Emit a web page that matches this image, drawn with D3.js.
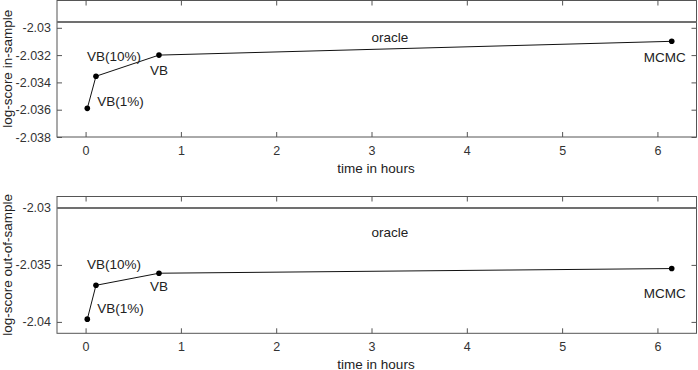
<!DOCTYPE html>
<html><head><meta charset="utf-8">
<script src="https://cdn.jsdelivr.net/npm/d3@7"></script>
<style>body{margin:0;background:#fff}svg{display:block;font-family:"Liberation Sans",Arial,sans-serif}</style>
</head><body><svg id="c" width="698" height="370"></svg>
<script>
const methods = ["VB(1%)", "VB(10%)", "VB", "MCMC"];
const hours = [0.018, 0.109, 0.77, 6.15];
const inSample = [-2.0359, -2.03355, -2.032, -2.03099];
const outSample = [-2.03976, -2.03679, -2.03573, -2.03532];
const oracleIn = -2.02958;
const oracleOut = -2.0300;
const xTicks = [0, 1, 2, 3, 4, 5, 6];
const inTicks = [-2.038, -2.036, -2.034, -2.032, -2.03];
const outTicks = [-2.04, -2.035, -2.03];

const svg = d3.select("#c");
const x = d3.scaleLinear().domain([-0.3, 6.41]).range([57, 696.5]);
const FS = 13.5;

const panels = [
  {vals: inSample, oracle: oracleIn, ticks: inTicks, dom: [-2.038, -2.028], top: 0.5, bot: 137, ylab: "log-score in-sample",
   off: [[10, -2.5, "start"], [18, -15, "middle"], [0, 20, "middle"], [14, 20.5, "end"]], oracleDy: 20, xlabY: 172.5},
  {vals: outSample, oracle: oracleOut, ticks: outTicks, dom: [-2.041, -2.029], top: 196.5, bot: 333.3, ylab: "log-score out-of-sample",
   off: [[10, -6, "start"], [18, -16, "middle"], [0, 18, "middle"], [14, 29.5, "end"]], oracleDy: 29, xlabY: 368.5}
];

panels.forEach(p => {
  const y = d3.scaleLinear().domain(p.dom).range([p.bot, p.top]);
  const g = svg.append("g");
  const grey = "#555";
  g.append("rect").attr("x", 57).attr("y", p.top).attr("width", 696.5 - 57).attr("height", p.bot - p.top)
    .attr("fill", "none").attr("stroke", grey).attr("stroke-width", 1);
  const xb = g.append("g").attr("transform", `translate(0,${p.bot})`)
    .call(d3.axisBottom(x).tickValues(xTicks).tickFormat(d3.format("d")).tickSizeInner(-5).tickSizeOuter(0).tickPadding(9));
  const xt = g.append("g").attr("transform", `translate(0,${p.top})`)
    .call(d3.axisTop(x).tickValues(xTicks).tickFormat("").tickSizeInner(-5).tickSizeOuter(0));
  const yl = g.append("g").attr("transform", `translate(57,0)`)
    .call(d3.axisLeft(y).tickValues(p.ticks).tickFormat(d => String(d).replace(/0+$/, "")).tickSizeInner(-5).tickSizeOuter(0).tickPadding(6));
  const yr = g.append("g").attr("transform", `translate(696.5,0)`)
    .call(d3.axisRight(y).tickValues(p.ticks).tickFormat("").tickSizeInner(-5).tickSizeOuter(0));
  [xb, xt, yl, yr].forEach(a => {
    a.select(".domain").remove();
    a.selectAll("line").attr("stroke", grey);
    a.selectAll("text").attr("fill", "#333").style("font-size", "12.5px").style("font-family", "Liberation Sans, Arial, sans-serif");
  });
  g.append("line").attr("x1", 57).attr("x2", 696.5).attr("y1", y(p.oracle)).attr("y2", y(p.oracle))
    .attr("stroke", "#707070").attr("stroke-width", 2);
  g.append("text").attr("x", 390).attr("y", y(p.oracle) + p.oracleDy).attr("text-anchor", "middle")
    .attr("font-size", FS).attr("fill", "#222").text("oracle");
  const data = methods.map((m, i) => ({m, h: hours[i], v: p.vals[i], o: p.off[i]}));
  g.append("path").datum(data).attr("fill", "none").attr("stroke", "#111").attr("stroke-width", 1)
    .attr("d", d3.line().x(d => x(d.h)).y(d => y(d.v)));
  g.selectAll("circle").data(data).join("circle").attr("cx", d => x(d.h)).attr("cy", d => y(d.v)).attr("r", 2.8).attr("fill", "#000");
  g.selectAll("text.lab").data(data).join("text").attr("class", "lab")
    .attr("x", d => x(d.h) + d.o[0]).attr("y", d => y(d.v) + d.o[1]).attr("text-anchor", d => d.o[2])
    .attr("font-size", FS).attr("fill", "#222").text(d => d.m);
  svg.append("text").attr("x", 376).attr("y", p.xlabY).attr("text-anchor", "middle").attr("font-size", FS).attr("fill", "#222").text("time in hours");
  svg.append("text").attr("transform", `translate(12,${(p.top + p.bot) / 2}) rotate(-90)`).attr("text-anchor", "middle")
    .attr("font-size", FS).attr("fill", "#222").text(p.ylab);
});
</script></body></html>
